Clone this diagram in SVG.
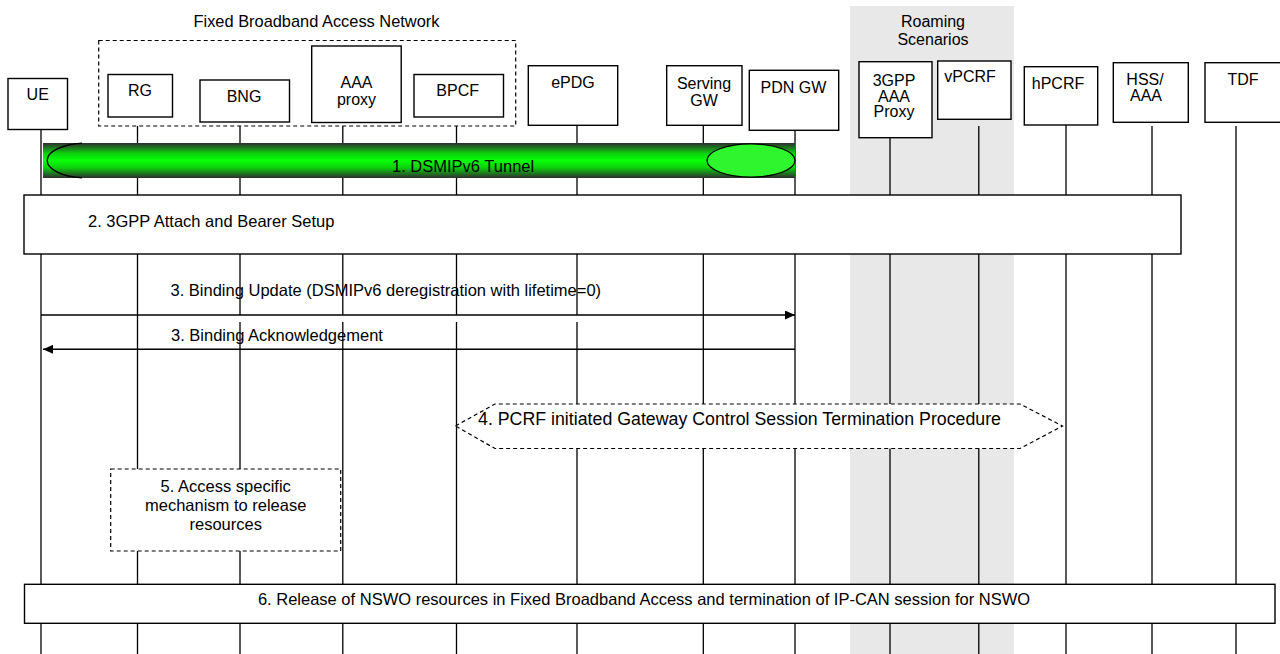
<svg xmlns="http://www.w3.org/2000/svg" width="1280" height="654" viewBox="0 0 1280 654">
<defs>
<style>
text{font-family:"Liberation Sans",Arial,sans-serif;font-size:16px;fill:#000}
.m{font-size:16.5px}
.c{text-anchor:middle}
.box{fill:#fff;stroke:#000;stroke-width:1.4}
.dbox{fill:#fff;stroke:#000;stroke-width:1.2;stroke-dasharray:4,3}
.life{stroke:#000;stroke-width:1.3;fill:none}
.msg{stroke:#000;stroke-width:1.4;fill:none}
</style>
<linearGradient id="tun" x1="0" y1="0" x2="0" y2="1">
<stop offset="0" stop-color="#2e2e2e"/>
<stop offset="0.3" stop-color="#0bd20b"/>
<stop offset="0.5" stop-color="#08ff08"/>
<stop offset="0.7" stop-color="#0bd20b"/>
<stop offset="1" stop-color="#2e2e2e"/>
</linearGradient>
<marker id="ah" markerWidth="10" markerHeight="9" refX="10" refY="4.5" orient="auto" markerUnits="userSpaceOnUse">
<path d="M0,0 L10,4.5 L0,9 Z" fill="#000"/>
</marker>
</defs>
<rect x="0" y="0" width="1280" height="654" fill="#fff"/>
<rect id="roaming-band" x="850" y="6" width="164" height="648" fill="#e8e8e8"/>
<text class="c" x="933" y="27">Roaming</text>
<text class="c" x="933" y="45">Scenarios</text>
<text class="c" x="316.5" y="27" style="font-size:16.4px">Fixed Broadband Access Network</text>

<g id="lifelines">
<line class="life" x1="41" y1="129" x2="41" y2="654"/>
<line class="life" x1="137.5" y1="126" x2="137.5" y2="654"/>
<line class="life" x1="240" y1="126" x2="240" y2="315"/>
<line class="life" x1="240" y1="322" x2="240" y2="654"/>
<line class="life" x1="342.8" y1="126" x2="342.8" y2="315"/>
<line class="life" x1="342.8" y1="322" x2="342.8" y2="654"/>
<line class="life" x1="456.5" y1="126" x2="456.5" y2="315"/>
<line class="life" x1="456.5" y1="322" x2="456.5" y2="654"/>
<line class="life" x1="577" y1="125" x2="577" y2="315"/>
<line class="life" x1="577" y1="322" x2="577" y2="654"/>
<line class="life" x1="703.3" y1="125" x2="703.3" y2="654"/>
<line class="life" x1="795" y1="130" x2="795" y2="654"/>
<line class="life" x1="890" y1="137" x2="890" y2="654"/>
<line class="life" x1="978.8" y1="126" x2="978.8" y2="654"/>
<line class="life" x1="1066" y1="125" x2="1066" y2="654"/>
<line class="life" x1="1152" y1="126" x2="1152" y2="654"/>
<line class="life" x1="1236" y1="126" x2="1236" y2="654"/>
</g>

<g id="fban-group">
<rect class="dbox" x="98.7" y="40.5" width="417" height="85.5" style="fill:none"/>
</g>
<g id="UE"><rect class="box" x="8" y="78.5" width="59.5" height="51"/><text class="c" x="37.7" y="100">UE</text></g>
<g id="RG"><rect class="box" x="108" y="74.5" width="64.5" height="42.5"/><text class="c" x="140" y="96">RG</text></g>
<g id="BNG"><rect class="box" x="200" y="80" width="89.5" height="42"/><text class="c" x="244" y="102">BNG</text></g>
<g id="AAAproxy"><rect class="box" x="311.7" y="46" width="89.5" height="76.5"/><text class="c" x="356.5" y="87.5">AAA</text><text class="c" x="356.5" y="105">proxy</text></g>
<g id="BPCF"><rect class="box" x="414" y="74.5" width="89.5" height="42.5"/><text class="c" x="457.7" y="96">BPCF</text></g>
<g id="ePDG"><rect class="box" x="528.3" y="65.7" width="89.4" height="59.6"/><text class="c" x="573" y="88">ePDG</text></g>
<g id="ServingGW"><rect class="box" x="666.7" y="65.7" width="75.3" height="59.6"/><text class="c" x="704" y="88.5">Serving</text><text class="c" x="704" y="105.5">GW</text></g>
<g id="PDNGW"><rect class="box" x="749.3" y="70.3" width="89.4" height="60"/><text class="c" x="793.5" y="93">PDN GW</text></g>
<g id="AAAProxy3GPP"><rect class="box" x="859" y="61.7" width="73" height="76"/><text class="c" x="894" y="86">3GPP</text><text class="c" x="894" y="101.5">AAA</text><text class="c" x="894" y="117">Proxy</text></g>
<g id="vPCRF"><rect class="box" x="937.7" y="61" width="73.3" height="58.3"/><text class="c" x="970" y="82">vPCRF</text></g>
<g id="hPCRF"><rect class="box" x="1024.3" y="66.7" width="73.4" height="58.3"/><text class="c" x="1058" y="88.5">hPCRF</text></g>
<g id="HSSAAA"><rect class="box" x="1113.3" y="62.7" width="75" height="59.6"/><text class="c" x="1145" y="85">HSS/</text><text class="c" x="1146" y="100.5">AAA</text></g>
<g id="TDF"><rect class="box" x="1205" y="62.7" width="80" height="59.6"/><text class="c" x="1243" y="85">TDF</text></g>

<g id="connectors">
<g id="tunnel">
<rect x="43" y="143" width="752" height="35" fill="url(#tun)"/>
<path d="M82,143.3 A39,17.3 0 0 0 82,177.7" fill="none" stroke="#000" stroke-width="1.4"/>
<ellipse cx="751" cy="160.5" rx="44" ry="16.6" fill="#2ef52e" stroke="#000" stroke-width="1.3"/>
<text class="m" x="392" y="172">1. DSMIPv6 Tunnel</text>
</g>
<g id="step2"><rect class="box" x="24" y="195" width="1157" height="59"/><text class="m" x="88" y="227">2. 3GPP Attach and Bearer Setup</text></g>
<g id="step3a"><line class="msg" x1="41" y1="315" x2="795" y2="315" marker-end="url(#ah)"/><text class="m" x="170.5" y="296">3. Binding Update (DSMIPv6 deregistration with lifetime=0)</text></g>
<g id="step3b"><line class="msg" x1="795" y1="349.3" x2="43" y2="349.3" marker-end="url(#ah)"/><text class="m" x="171" y="341">3. Binding Acknowledgement</text></g>
<g id="step4"><polygon points="455.5,426 495,404 1020,404 1062.5,426 1020,448.5 495,448.5" fill="#fff" stroke="#000" stroke-width="1.2" stroke-dasharray="4,3"/><text x="478" y="424.5" style="font-size:17.5px" textLength="523" lengthAdjust="spacingAndGlyphs">4. PCRF initiated Gateway Control Session Termination Procedure</text></g>
<g id="step5"><rect class="dbox" x="110.7" y="469" width="230" height="82"/><text class="m c" x="225.7" y="491.5">5. Access specific</text><text class="m c" x="225.7" y="511">mechanism to release</text><text class="m c" x="225.7" y="530">resources</text></g>
<g id="step6"><rect class="box" x="24.5" y="584.3" width="1250.5" height="39"/><text class="m c" x="644" y="604.5">6. Release of NSWO resources in Fixed Broadband Access and termination of IP-CAN session for NSWO</text></g>
</g>
</svg>
